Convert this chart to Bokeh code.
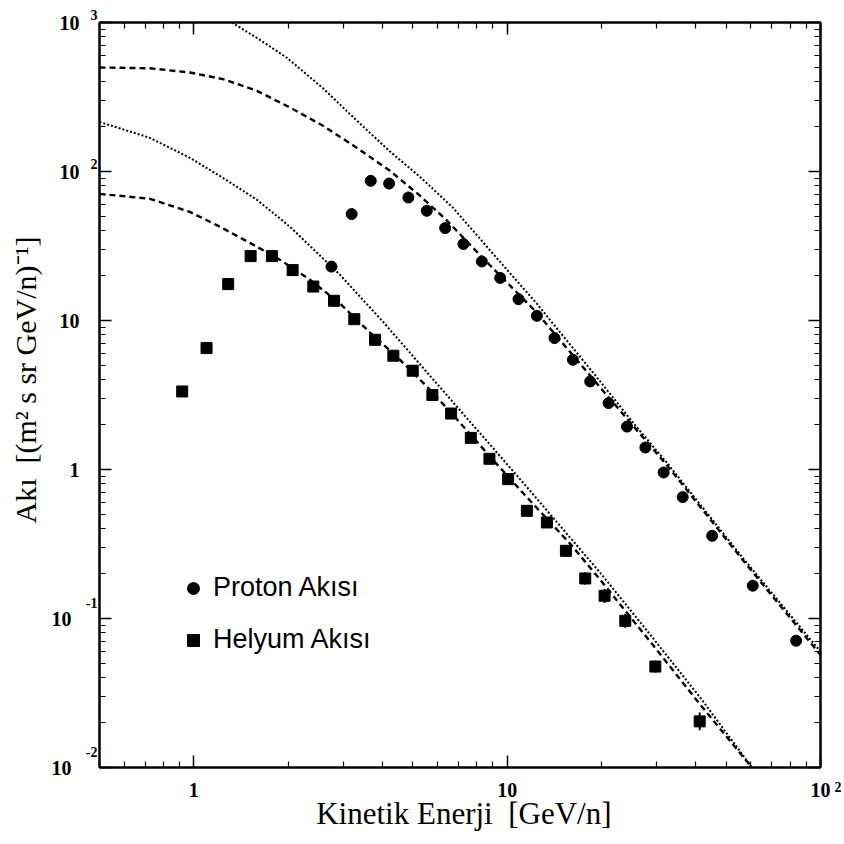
from bokeh.plotting import figure
from bokeh.models import (LogAxis, FixedTicker, Legend, LegendItem, Range1d)
from bokeh.embed import file_html
from bokeh.resources import INLINE

# ---------------- data ----------------
proton_x = [2.75, 3.19, 3.67, 4.20, 4.84, 5.54, 6.34, 7.25, 8.30, 9.50, 10.87, 12.44,
            14.16, 16.21, 18.41, 21.07, 24.12, 27.61, 31.57, 36.33, 45.1, 60.8, 83.6]
proton_y = [23.0, 51.8, 86.6, 83.0, 66.9, 54.5, 41.7, 32.6, 24.9, 19.3, 13.9, 10.75,
            7.62, 5.45, 3.90, 2.79, 1.94, 1.405, 0.955, 0.653, 0.359, 0.166, 0.0709]

helium_x = [0.918, 1.098, 1.287, 1.518, 1.775, 2.067, 2.406, 2.802, 3.252, 3.787, 4.333,
            4.996, 5.772, 6.624, 7.656, 8.778, 10.07, 11.56, 13.39, 15.40, 17.75, 20.46,
            23.82, 29.71, 41.16]
helium_y = [3.34, 6.53, 17.55, 27.05, 27.05, 21.8, 16.9, 13.56, 10.2, 7.42, 5.80,
            4.60, 3.16, 2.375, 1.63, 1.18, 0.862, 0.528, 0.441, 0.2846, 0.1856, 0.142,
            0.0965, 0.0476, 0.0204]

helium_err_x = [0.918, 1.098, 10.07, 11.56, 13.39, 15.40, 17.75, 20.46, 23.82, 29.71, 41.16]
helium_err_lo = [3.09, 6.24, 0.81, 0.496, 0.414, 0.264, 0.169, 0.127, 0.0866, 0.0434, 0.0178]
helium_err_hi = [3.61, 6.84, 0.917, 0.562, 0.469, 0.307, 0.204, 0.158, 0.1075, 0.0522, 0.0234]

# proton model curves
proton_dash_x = [0.5, 0.7237, 0.971, 1.238, 1.590, 2.026, 2.584, 3.317, 4.229, 5.272,
                 6.339, 8.26, 9.50, 12.38, 19.82, 32.45, 56.75, 100]
proton_dash_y = [499, 493, 462, 417, 348, 269, 203, 144, 101, 68.7,
                 48.2, 27.0, 20.0, 11.4, 3.55, 1.06, 0.244, 0.057]

proton_dot_x = [1.322, 1.625, 1.982, 2.584, 3.317, 4.229, 5.272, 6.723, 9.02, 12.47,
                14.77, 19.82, 25.27, 32.45, 56.75, 100]
proton_dot_y = [1000, 765, 580, 362, 219, 136, 92, 57, 28.0, 12.9,
                8.3, 3.9, 2.05, 1.10, 0.252, 0.060]

# helium model curves
helium_dot_x = [0.5, 0.7237, 0.971, 1.238, 1.590, 2.026, 2.928, 4.017, 5.675, 7.235,
                9.29, 11.84, 15.90, 19.82, 28.64, 41.37, 60.64]
helium_dot_y = [215, 168.4, 123.6, 90.7, 64.6, 42.6, 20.26, 9.8, 4.25, 2.365,
                1.294, 0.719, 0.348, 0.2026, 0.0777, 0.02936, 0.0099]

helium_dash_x = [0.5, 0.7237, 0.971, 1.211, 1.51, 1.883, 2.348, 2.928, 3.650, 4.551,
                 5.675, 7.077, 8.826, 11.84, 15.90, 19.82, 28.64, 41.37, 60.64]
helium_dash_y = [70.8, 65.6, 53.6, 42.6, 33.2, 25.6, 18.76, 13.0, 8.3, 5.45,
                 3.43, 2.058, 1.217, 0.6165, 0.317, 0.1818, 0.0698, 0.02635, 0.0099]

x_major = [1, 10, 100]
y_major = [0.01, 0.1, 1, 10, 100, 1000]
x_labels = {1: "1", 10: "10", 100: "10"}
x_exponent_labels = {0.01: " \n2", 0.1: " ", 1: " ", 10: " ", 100: " ", 1000: " "}
y_base_labels = {1000: "10", 100: "10", 10: "10", 1: "1",
                 0.1: "10\u2009\u2009", 0.01: "10\u2009\u2009"}
y_exponent_labels = {1000: "3\n ", 100: "2\n ", 10: " ", 1: " ",
                     0.1: "-1\n \n ", 0.01: "-2\n \n "}

legend_labels = ["Proton Akısı", "Helyum Akısı"]
x_title = "\u00a0Kinetik Enerji\u00a0\u00a0[GeV/n]"
y_title = "\u00a0\u00a0\u00a0\u00a0Akı\u00a0\u00a0[(m² s sr GeV/n)⁻¹]"

# ---------------- figure ----------------
SERIF = "Liberation Serif"
SANS = "Liberation Sans"

p = figure(width=844, height=844, x_axis_type="log", y_axis_type="log",
           x_range=Range1d(0.5, 100), y_range=Range1d(0.01, 1000),
           output_backend="svg", toolbar_location=None,
           min_border_left=99, min_border_right=23,
           min_border_top=22, min_border_bottom=77)
p.grid.visible = False
p.outline_line_color = "black"
p.outline_line_width = 2
p.background_fill_color = "white"
p.border_fill_color = "white"

def minor_list(lo_exp, hi_exp):
    out = []
    for e in range(lo_exp, hi_exp):
        for m in range(2, 10):
            out.append(m * 10.0 ** e)
    return out

def style_axis(ax, label_size):
    ax.axis_line_width = 2
    ax.axis_line_color = "black"
    ax.major_tick_in = 12
    ax.major_tick_out = 0
    ax.minor_tick_in = 6
    ax.minor_tick_out = 0
    ax.major_tick_line_width = 1.5
    ax.minor_tick_line_width = 1.2
    ax.major_tick_line_color = "black"
    ax.minor_tick_line_color = "black"
    ax.major_label_text_font = SERIF
    ax.major_label_text_font_style = "bold"
    ax.major_label_text_color = "black"
    ax.major_label_text_font_size = label_size

# bottom axis
xa = p.xaxis[0]
xa.ticker = FixedTicker(ticks=x_major, minor_ticks=minor_list(-1, 2))
style_axis(xa, "20px")
xa.major_label_overrides = x_labels
xa.major_label_standoff = 15
xa.axis_label = x_title
xa.axis_label_text_font = SERIF
xa.axis_label_text_font_style = "normal"
xa.axis_label_text_font_size = "31px"
xa.axis_label_text_color = "black"
xa.axis_label_standoff = -4

# inner left axis: line, ticks and the exponents of the tick labels
ya = p.yaxis[0]
ya.ticker = FixedTicker(ticks=y_major, minor_ticks=minor_list(-2, 3))
style_axis(ya, "14px")
ya.major_label_overrides = y_exponent_labels
ya.major_label_text_line_height = 1.0
ya.major_label_standoff = 2

# outer left axis: mantissas of the tick labels and the axis title
ya2 = LogAxis(ticker=FixedTicker(ticks=y_major, minor_ticks=[]))
style_axis(ya2, "20px")
ya2.axis_line_color = None
ya2.major_tick_line_color = None
ya2.minor_tick_line_color = None
ya2.major_label_overrides = y_base_labels
ya2.major_label_standoff = 3
ya2.axis_label = y_title
ya2.axis_label_text_font = SERIF
ya2.axis_label_text_font_style = "normal"
ya2.axis_label_text_font_size = "30px"
ya2.axis_label_text_color = "black"
ya2.axis_label_standoff = 6
p.add_layout(ya2, "left")

# top axis (ticks only)
top = LogAxis(ticker=FixedTicker(ticks=x_major, minor_ticks=minor_list(-1, 2)))
style_axis(top, "1px")
top.major_label_text_alpha = 0
top.major_label_standoff = 0
p.add_layout(top, "above")

# right axis (ticks only) carrying the exponent of the "10^2" x label
right = LogAxis(ticker=FixedTicker(ticks=y_major, minor_ticks=minor_list(-2, 3)))
style_axis(right, "14px")
right.major_label_overrides = x_exponent_labels
right.major_label_text_line_height = 2.6
right.major_label_standoff = 14
p.add_layout(right, "right")

# ---------------- curves ----------------
p.line(proton_dot_x, proton_dot_y, line_color="black", line_width=2, line_dash="2 2")
p.line(proton_dash_x, proton_dash_y, line_color="black", line_width=2.4, line_dash="6 4")
p.line(helium_dot_x, helium_dot_y, line_color="black", line_width=2, line_dash="2 2")
p.line(helium_dash_x, helium_dash_y, line_color="black", line_width=2.4, line_dash="6 4")

# ---------------- data ----------------
p.segment(x0=helium_err_x, y0=helium_err_lo, x1=helium_err_x, y1=helium_err_hi,
          line_color="black", line_width=2)
r_p = p.scatter(proton_x, proton_y, marker="circle", size=11,
                fill_color="black", line_color="black")
r_h = p.scatter(helium_x, helium_y, marker="square", size=11,
                fill_color="black", line_color="black")

legend = Legend(items=[LegendItem(label=legend_labels[0], renderers=[r_p]),
                       LegendItem(label=legend_labels[1], renderers=[r_h])],
                location=(79, 112), orientation="vertical",
                glyph_width=30, glyph_height=30, label_height=30,
                spacing=21, padding=0, margin=0, label_standoff=5,
                label_text_font=SANS, label_text_font_size="27px",
                label_text_color="black", border_line_color=None,
                background_fill_alpha=0)
p.add_layout(legend)

open("out.html", "w").write(file_html(p, INLINE))
